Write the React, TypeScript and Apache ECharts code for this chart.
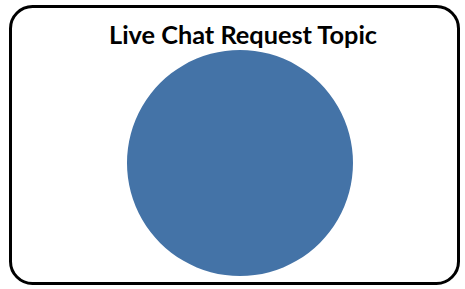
import React, { useEffect, useRef } from "react";
import * as echarts from "echarts";

const categories = ["Live Chat Requests"];
const values = [100];

export default function App() {
  const ref = useRef<HTMLDivElement>(null);
  useEffect(() => {
    const chart = echarts.init(ref.current!, null, { renderer: "svg" });
    chart.setOption({
      animation: false,
      backgroundColor: "#ffffff",
      title: {
        text: "Live Chat Request Topic",
        left: 104,
        top: 16,
        textStyle: { fontFamily: "Lato", fontWeight: "bold", fontSize: 25.3, color: "#000000" },
      },
      graphic: [
        {
          type: "rect",
          shape: { x: 10.5, y: 6.5, width: 448, height: 277, r: 22 },
          style: { fill: "none", stroke: "#000000", lineWidth: 3 },
          silent: true,
        },
      ],
      series: [
        {
          type: "pie",
          center: [240, 163],
          radius: 113,
          label: { show: false },
          labelLine: { show: false },
          itemStyle: { color: "#4473a7" },
          data: categories.map((c, i) => ({ name: c, value: values[i] })),
        },
      ],
    });
    return () => chart.dispose();
  }, []);
  return <div ref={ref} style={{ position: "fixed", left: 0, top: 0, width: 465, height: 289 }} />;
}
